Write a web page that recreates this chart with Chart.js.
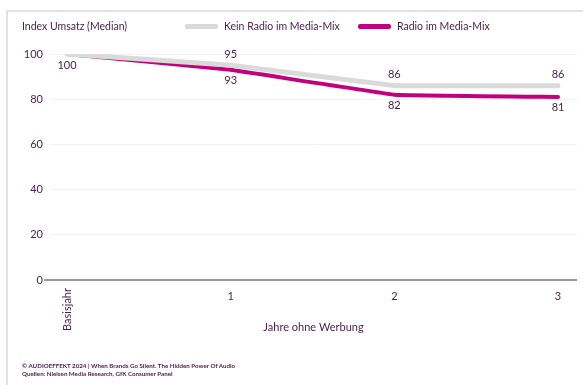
<!DOCTYPE html>
<html lang="de">
<head>
<meta charset="utf-8">
<title>Index Umsatz (Median)</title>
<script src="https://cdn.jsdelivr.net/npm/chart.js@4.4.1/dist/chart.umd.min.js"></script>
<style>
  html, body { margin: 0; padding: 0; background: #fff; }
  body { width: 583px; height: 385px; position: relative; overflow: hidden; font-family: Lato, 'Open Sans', sans-serif; color: #4a1c48; }
  .frame { position: absolute; left: 6px; top: 10px; right: -10px; bottom: -10px; border-left: 2px solid #e2e2e2; border-top: 2px solid #e2e2e2; }
  #chart { position: absolute; left: 0; top: 0; }
  .head { position: absolute; top: 20px; left: 22px; font-size: 10.5px; white-space: nowrap; }
  .leg { position: absolute; top: 20px; font-size: 10.5px; white-space: nowrap; display: flex; align-items: center; }
  .leg i { display: inline-block; width: 33px; height: 5px; border-radius: 2px; margin-right: 6px; }
  .foot { position: absolute; left: 22px; top: 362px; font-size: 6.2px; font-weight: bold; line-height: 8px; white-space: nowrap; }
</style>
</head>
<body>
<div class="frame"></div>
<canvas id="chart" width="583" height="385"></canvas>
<div class="head">Index Umsatz (Median)</div>
<div class="leg" style="left:185px"><i style="background:#dadada"></i>Kein Radio im Media-Mix</div>
<div class="leg" style="left:358px"><i style="background:#c2007d"></i>Radio im Media-Mix</div>
<div class="foot">© AUDIOEFFEKT 2024 | When Brands Go Silent. The Hidden Power Of Audio<br>Quellen: Nielsen Media Research, GfK Consumer Panel</div>

<script>
// ── Data ──────────────────────────────────────────────────────────────────────
const years      = [0, 1, 2, 3];
const yearLabels = ['Basisjahr', '1', '2', '3'];
const keinRadio  = [100, 95, 86, 86];
const mitRadio   = [100, 93, 82, 81];
const yTicks     = [0, 20, 40, 60, 80, 100];

const INK  = '#4a1c48';
const PINK = '#c2007d';
const GREY = '#dadada';
const FONT = 'Lato, "Open Sans", sans-serif';

const toPoints = vals => vals.map((v, i) => ({ x: years[i], y: v }));

// ── Value labels + x axis text ────────────────────────────────────────────────
const labelsPlugin = {
  id: 'labels',
  afterDatasetsDraw(chart) {
    const ctx = chart.ctx;
    const area = chart.chartArea;
    ctx.save();
    ctx.fillStyle = INK;
    ctx.font = '11px ' + FONT;
    ctx.textAlign = 'center';
    ctx.textBaseline = 'middle';

    // grey series above the line (the shared 100 is labelled once, below)
    chart.getDatasetMeta(0).data.forEach((pt, i) => {
      if (i === 0) return;
      ctx.fillText(keinRadio[i], pt.x, pt.y - 11);
    });
    // pink series below the line
    chart.getDatasetMeta(1).data.forEach((pt, i) => {
      ctx.fillText(mitRadio[i], pt.x, pt.y + 11);
    });

    // zero line reaches a little past the plot on the left
    ctx.strokeStyle = '#9a9a9a';
    ctx.lineWidth = 2;
    ctx.beginPath();
    ctx.moveTo(area.left - 6, area.bottom);
    ctx.lineTo(area.left, area.bottom);
    ctx.stroke();

    // x tick labels, first one rotated
    const xs = chart.scales.x;
    yearLabels.forEach((lab, i) => {
      const x = xs.getPixelForValue(years[i]);
      if (i === 0) {
        ctx.save();
        ctx.translate(x, area.bottom + 8);
        ctx.rotate(-Math.PI / 2);
        ctx.textAlign = 'right';
        ctx.fillText(lab, 0, 0);
        ctx.restore();
      } else {
        ctx.fillText(lab, x, area.bottom + 16);
      }
    });

    ctx.fillText('Jahre ohne Werbung', (area.left + area.right) / 2, area.bottom + 47);
    ctx.restore();
  }
};

// ── Chart ─────────────────────────────────────────────────────────────────────
new Chart(document.getElementById('chart'), {
  type: 'line',
  data: {
    datasets: [
      {
        label: 'Kein Radio im Media-Mix',
        data: toPoints(keinRadio),
        borderColor: GREY, borderWidth: 5,
        pointRadius: 0, tension: 0.05,
        borderCapStyle: 'round', borderJoinStyle: 'round'
      },
      {
        label: 'Radio im Media-Mix',
        data: toPoints(mitRadio),
        borderColor: PINK, borderWidth: 4,
        pointRadius: 0, tension: 0.05,
        borderCapStyle: 'round', borderJoinStyle: 'round'
      }
    ]
  },
  options: {
    responsive: false,
    animation: false,
    layout: { padding: { top: 54, right: 6, bottom: 105, left: 0 } },
    plugins: { legend: { display: false }, tooltip: { enabled: false } },
    scales: {
      x: {
        type: 'linear',
        min: -0.104, max: 3.116,
        afterFit: s => { s.height = 0; },
        border: { display: false },
        grid: { display: false },
        ticks: { display: false }
      },
      y: {
        min: 0, max: 100,
        afterFit: s => { s.width = 50; },
        afterBuildTicks: s => { s.ticks = yTicks.map(v => ({ value: v })); },
        border: { display: false },
        grid: {
          drawTicks: false,
          color: c => c.tick.value === 0 ? '#9a9a9a' : '#f3f3f3',
          lineWidth: c => c.tick.value === 0 ? 2 : 1
        },
        ticks: { color: INK, font: { family: FONT, size: 11 }, padding: 7 }
      }
    }
  },
  plugins: [labelsPlugin]
});
</script>
</body>
</html>
